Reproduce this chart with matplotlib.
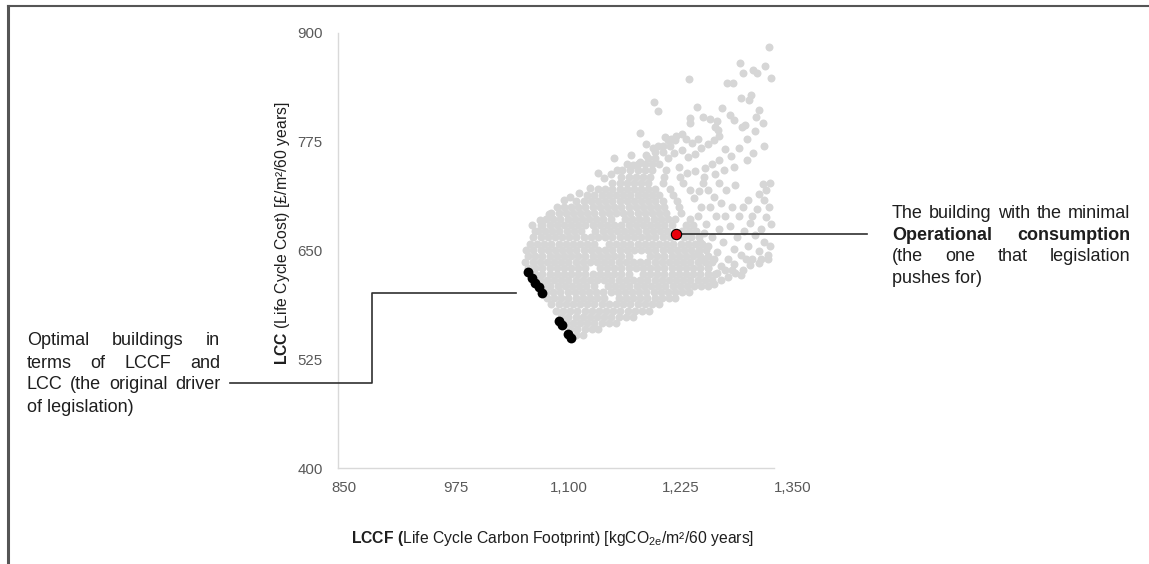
import matplotlib
matplotlib.use('Agg')
import matplotlib.pyplot as plt
import matplotlib.transforms as mtransforms
from matplotlib.lines import Line2D

W, H = 1149, 564

plt.rcParams['font.family'] = ['Liberation Sans', 'DejaVu Sans']
plt.rcParams['mathtext.fontset'] = 'custom'
plt.rcParams['mathtext.rm'] = 'Liberation Sans'
plt.rcParams['mathtext.bf'] = 'Liberation Sans:bold'
plt.rcParams['mathtext.it'] = 'Liberation Sans:italic'

# --- data (LCCF kgCO2e/m2/60y, LCC GBP/m2/60y) ---
x_ticks = [850, 975, 1100, 1225, 1350]
y_ticks = [400, 525, 650, 775, 900]

# dense part of the cloud, one LCC level per row
grey_rows_lcc = [553, 560, 567, 574, 581, 588, 595, 602, 609, 616, 623, 630, 637,
                 644, 651, 658, 665, 672, 679, 686, 693, 700, 707, 714, 721, 728,
                 735, 742, 749, 756, 763, 770, 777]
grey_rows_lccf = [
    [1108, 1116],
    [1102, 1110, 1118, 1126, 1133],
    [1097, 1105, 1113, 1121, 1129, 1137, 1145, 1153],
    [1092, 1100, 1108, 1116, 1124, 1132, 1140, 1148, 1156, 1164, 1172],
    [1086, 1094, 1102, 1110, 1118, 1126, 1134, 1142, 1150, 1158, 1166, 1174, 1182, 1190],
    [1081, 1089, 1097, 1105, 1113, 1121, 1129, 1137, 1145, 1153, 1161, 1169, 1177, 1185, 1193, 1201],
    [1076, 1084, 1092, 1100, 1108, 1116, 1124, 1132, 1140, 1156, 1164, 1172, 1180, 1188, 1196, 1204, 1212, 1219],
    [1075, 1083, 1091, 1099, 1107, 1115, 1123, 1131, 1139, 1147, 1155, 1163, 1171, 1179, 1187, 1195, 1203, 1211,
     1219, 1227, 1234],
    [1072, 1080, 1088, 1096, 1104, 1112, 1120, 1128, 1144, 1152, 1160, 1168, 1176, 1184, 1192, 1200, 1208, 1216,
     1224, 1232, 1240, 1248, 1255],
    [1068, 1076, 1084, 1092, 1100, 1108, 1116, 1124, 1132, 1140, 1148, 1156, 1164, 1172, 1180, 1188, 1196, 1204,
     1212, 1220, 1228, 1236, 1244, 1252, 1260],
    [1063, 1071, 1079, 1087, 1095, 1103, 1111, 1119, 1127, 1135, 1143, 1151, 1159, 1167, 1183, 1191, 1199, 1207,
     1215, 1223, 1231, 1239, 1247, 1255, 1263],
    [1055, 1063, 1071, 1079, 1087, 1095, 1103, 1111, 1119, 1135, 1143, 1151, 1159, 1167, 1175, 1183, 1191, 1199,
     1207, 1215, 1223, 1231, 1239, 1247, 1255],
    [1052, 1060, 1068, 1076, 1084, 1092, 1100, 1108, 1116, 1124, 1132, 1140, 1148, 1156, 1164, 1172, 1180, 1188,
     1196, 1204, 1212, 1220, 1228, 1236, 1244, 1252, 1260],
    [1055, 1063, 1071, 1079, 1087, 1095, 1103, 1111, 1119, 1127, 1135, 1143, 1151, 1159, 1167, 1191, 1199, 1207,
     1215, 1223, 1231, 1239, 1247, 1255],
    [1053, 1061, 1069, 1077, 1085, 1093, 1101, 1109, 1117, 1125, 1133, 1141, 1149, 1157, 1165, 1173, 1181, 1189,
     1197, 1205, 1213, 1221, 1229, 1237, 1245, 1253],
    [1057, 1065, 1073, 1081, 1089, 1097, 1105, 1113, 1121, 1129, 1145, 1153, 1161, 1169, 1177, 1185, 1193, 1201,
     1209, 1217, 1225, 1233, 1241, 1249],
    [1061, 1069, 1077, 1085, 1093, 1101, 1109, 1117, 1125, 1133, 1141, 1149, 1157, 1165, 1173, 1181, 1189, 1197,
     1205, 1213, 1229, 1237, 1245],
    [1066, 1074, 1082, 1090, 1098, 1106, 1114, 1130, 1138, 1146, 1154, 1162, 1170, 1178, 1186, 1194, 1202, 1210,
     1226, 1234, 1242],
    [1071, 1079, 1087, 1095, 1103, 1111, 1119, 1127, 1135, 1143, 1151, 1159, 1167, 1175, 1183, 1191, 1199, 1207,
     1215, 1231, 1239],
    [1075, 1083, 1091, 1099, 1107, 1115, 1123, 1131, 1139, 1147, 1163, 1171, 1179, 1187, 1195, 1203, 1211, 1219, 1235],
    [1081, 1089, 1097, 1105, 1113, 1121, 1129, 1137, 1145, 1153, 1161, 1169, 1177, 1185, 1193, 1201, 1209, 1225],
    [1087, 1095, 1103, 1111, 1119, 1127, 1135, 1143, 1151, 1159, 1167, 1175, 1183, 1191, 1199, 1207, 1223],
    [1109, 1117, 1125, 1133, 1141, 1149, 1157, 1165, 1173, 1181, 1189, 1197, 1205, 1221],
    [1121, 1129, 1137, 1145, 1153, 1161, 1169, 1177, 1185, 1193, 1201, 1217],
    [1133, 1141, 1149, 1157, 1165, 1173, 1181, 1189, 1197, 1213],
    [1149, 1157, 1165, 1173, 1181, 1189, 1205],
    [1159, 1167, 1175, 1183, 1191, 1207],
    [1169, 1177, 1185, 1193, 1209],
    [1177, 1185, 1193, 1201],
    [1189, 1197, 1211],
    [1197, 1205],
    [1205, 1213],
    [1211, 1219],
]

# scattered designs around the dense part
grey_upper = [(1323, 884), (1291, 865), (1294, 854), (1306, 858), (1310, 854), (1319, 862), (1326, 848),
              (1234, 847), (1277, 842), (1283, 842), (1292, 825), (1301, 823), (1303, 829), (1195, 821),
              (1200, 810), (1243, 815), (1271, 814), (1280, 806), (1284, 800), (1312, 812), (1309, 803),
              (1317, 797), (1236, 802), (1236, 797), (1250, 803), (1258, 801), (1265, 799), (1263, 792),
              (1267, 789), (1293, 792), (1297, 794), (1299, 778)]
grey_band = [(1180, 785), (1187, 772), (1194, 768), (1208, 780), (1214, 778), (1220, 782), (1226, 784),
             (1231, 778), (1238, 774), (1244, 778), (1218, 762), (1226, 765), (1233, 757), (1241, 761),
             (1248, 768), (1255, 772), (1262, 777), (1268, 782), (1274, 767), (1281, 759), (1268, 754),
             (1260, 749), (1252, 745), (1263, 738), (1273, 742), (1285, 746), (1299, 754), (1308, 787),
             (1251, 734), (1241, 741), (1232, 739), (1223, 746), (1151, 756), (1154, 743), (1133, 739),
             (1170, 760), (1165, 750), (1290, 768), (1306, 762), (1318, 770)]
grey_right = [(1317, 726), (1325, 728), (1320, 719), (1312, 715), (1318, 708), (1324, 700), (1310, 698),
              (1305, 690), (1320, 688), (1326, 680), (1315, 675), (1308, 668), (1318, 660), (1325, 655),
              (1312, 650), (1300, 708), (1295, 700), (1290, 690), (1302, 682), (1296, 672), (1288, 665),
              (1280, 678), (1274, 690), (1282, 700), (1270, 705), (1262, 712), (1276, 720), (1286, 725),
              (1268, 728), (1256, 720), (1250, 728), (1245, 718), (1258, 700), (1264, 690), (1268, 675),
              (1260, 665), (1272, 660), (1284, 652), (1292, 645), (1300, 655), (1305, 640), (1315, 640),
              (1322, 645), (1278, 640), (1266, 648), (1255, 655), (1262, 640), (1270, 632), (1282, 628),
              (1292, 622), (1250, 640), (1256, 630), (1244, 648), (1247, 660), (1251, 670), (1253, 680),
              (1244, 690), (1248, 700), (1240, 710), (1236, 720), (1228, 728), (1224, 735),
              (1262, 612), (1270, 616), (1278, 620), (1286, 624), (1294, 628), (1302, 633), (1312, 636),
              (1322, 640), (1275, 628), (1285, 634), (1298, 640), (1265, 624)]
grey_edge = [(1059, 679), (1068, 685), (1070, 679), (1063, 672), (1078, 692), (1095, 708), (1102, 712),
             (1112, 716), (1124, 722), (1140, 733), (1148, 738), (1160, 742), (1172, 748), (1180, 752),
             (1186, 760), (1200, 770)]

# optimal (pareto) buildings
pareto_lccf = [1055.5, 1059.5, 1063, 1067, 1070.5, 1090, 1093, 1100, 1103]
pareto_lcc = [625.5, 618, 612.5, 607.5, 601.5, 569.5, 564.5, 554, 549]

# minimal operational consumption building
min_op_lccf = [1220]
min_op_lcc = [669]

# --- build grey series ---
grey_x, grey_y = [], []
for lcc, row in zip(grey_rows_lcc, grey_rows_lccf):
    grey_x += row
    grey_y += [lcc] * len(row)
for pts in (grey_upper, grey_band, grey_right, grey_edge):
    grey_x += [p[0] for p in pts]
    grey_y += [p[1] for p in pts]

TXT = '#1e1e1e'
TICK = '#595959'

fig = plt.figure(figsize=(W / 100, H / 100), dpi=100)
ax = fig.add_axes([338 / W, (H - 468) / H, 454.8 / W, 435 / H])

ax.scatter(grey_x, grey_y, s=33, color='#d6d6d6', linewidths=0, zorder=2, clip_on=False)
ax.scatter(pareto_lccf, pareto_lcc, s=50, color='black', linewidths=0, zorder=4)
ax.scatter(min_op_lccf, min_op_lcc, s=55, color='#e8000b', edgecolors='black',
           linewidths=0.8, zorder=5)

ax.set_xlim(843.3, 1350)
ax.set_ylim(400, 900)
ax.set_xticks(x_ticks)
ax.set_xticklabels([f'{v:,}' for v in x_ticks])
ax.set_yticks(y_ticks)
ax.tick_params(axis='both', length=0, labelsize=10.8, labelcolor=TICK)
ax.tick_params(axis='x', pad=9)
ax.tick_params(axis='y', pad=11)
for side in ('top', 'right'):
    ax.spines[side].set_visible(False)
for side in ('left', 'bottom'):
    ax.spines[side].set_color('#d9d9d9')
    ax.spines[side].set_linewidth(1.0)
ax.spines['bottom'].set_bounds(843.3, 1329)

# axis titles
fig.text(282 / W, 1 - 233 / H, r'$\mathbf{LCC}$ (Life Cycle Cost) [£/m²/60 years]',
         rotation=90, rotation_mode='anchor', ha='center', va='center',
         fontsize=11.3, color=TXT)
fig.text(553 / W, 1 - 538 / H,
         r'$\mathbf{LCCF\ (}$Life Cycle Carbon Footprint) [kgCO$_{\mathrm{2e}}$/m²/60 years]',
         ha='center', va='center', fontsize=11.3, color=TXT)

# justified annotation texts
renderer = fig.canvas.get_renderer()
ANN = 13


def put_line(words, x0, x1, base, bold=False):
    arts = [fig.text(0, 0, w, fontsize=ANN, color=TXT, va='baseline',
                     fontweight='bold' if bold else 'normal') for w in words]
    widths = [a.get_window_extent(renderer).width for a in arts]
    gap = (x1 - x0 - sum(widths)) / (len(arts) - 1)
    x = x0
    for a, w in zip(arts, widths):
        a.set_position((x / W, 1 - base / H))
        x += w + gap


def put_plain(s, x0, base):
    fig.text(x0 / W, 1 - base / H, s, fontsize=ANN, color=TXT, va='baseline')


put_line(['Optimal', 'buildings', 'in'], 27, 220, 345)
put_line(['terms', 'of', 'LCCF', 'and'], 27, 220, 367.5)
put_line(['LCC', '(the', 'original', 'driver'], 27, 220, 389)
put_plain('of legislation)', 27, 411.5)

put_line(['The', 'building', 'with', 'the', 'minimal'], 892, 1130, 218.5)
put_line(['Operational', 'consumption'], 892, 1130, 239.5, bold=True)
put_line(['(the', 'one', 'that', 'legislation'], 892, 1130, 261)
put_plain('pushes for)', 892, 283)

# leader lines
fig.add_artist(Line2D(
    [230 / W, 372 / W, 372 / W, 516 / W],
    [1 - 383.3 / H, 1 - 383.3 / H, 1 - 292.5 / H, 1 - 292.5 / H],
    transform=fig.transFigure, color='#303030', lw=1.2, zorder=3))
red_fx = fig.transFigure.inverted().transform(
    ax.transData.transform((min_op_lccf[0], min_op_lcc[0])))[0]
blend = mtransforms.blended_transform_factory(fig.transFigure, ax.transData)
ax.add_line(Line2D([red_fx, 867 / W], [min_op_lcc[0], min_op_lcc[0]],
                   transform=blend, color='#303030', lw=1.2, zorder=3, clip_on=False))

# frame of the original figure
fig.add_artist(Line2D([7.7 / W, 1], [1 - 5.7 / H, 1 - 5.7 / H], transform=fig.transFigure,
                      color='#555555', lw=1.5))
fig.add_artist(Line2D([7.7 / W, 7.7 / W], [0, 1 - 5.7 / H], transform=fig.transFigure,
                      color='#555555', lw=2.2))

fig.savefig('out.png', dpi=100, facecolor='white')
